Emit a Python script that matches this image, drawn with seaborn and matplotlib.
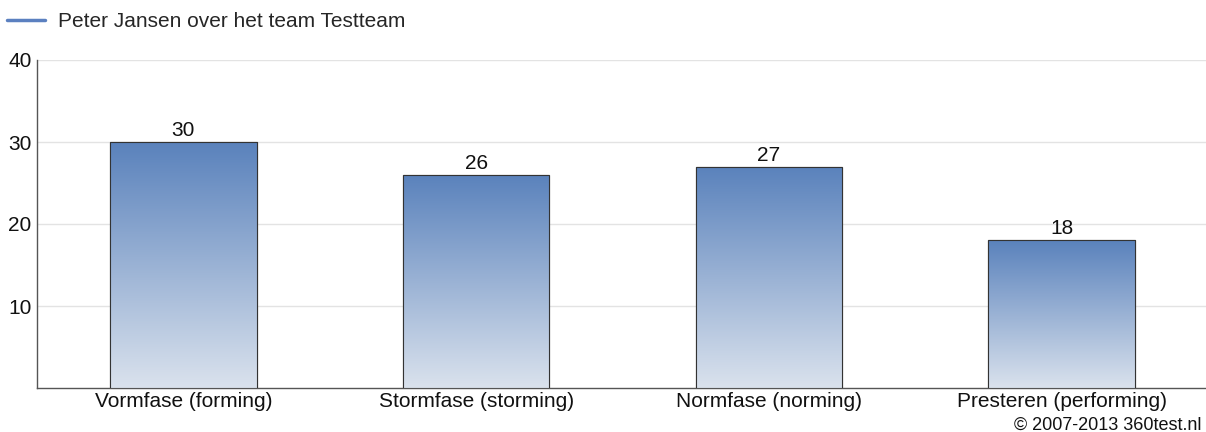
import numpy as np
import pandas as pd
import matplotlib
matplotlib.use("Agg")
import matplotlib.pyplot as plt
from matplotlib.colors import LinearSegmentedColormap
from matplotlib.lines import Line2D
import seaborn as sns

categories = ["Vormfase (forming)", "Stormfase (storming)", "Normfase (norming)", "Presteren (performing)"]
scores = [30, 26, 27, 18]
series_name = "Peter Jansen over het team Testteam"
y_ticks = [10, 20, 30, 40]

sns.set_theme(style="white")
plt.rcParams["font.family"] = ["Liberation Sans", "DejaVu Sans"]

df = pd.DataFrame({"fase": categories, "score": scores})

fig = plt.figure(figsize=(12.06, 4.32), dpi=100)
ax = fig.add_axes([37 / 1206, 1 - 388 / 432, 1171 / 1206, 328 / 432])

sns.barplot(data=df, x="fase", y="score", ax=ax, width=0.5,
            color="#ffffff", edgecolor="#333333", linewidth=0.8, zorder=3)

ax.set_ylim(0, 40)
ax.set_xlim(-0.5, len(categories) - 0.5)
ax.set_yticks(y_ticks)
ax.set_yticklabels([str(t) for t in y_ticks], fontsize=15, color="#111111")
ax.tick_params(axis="x", labelsize=15, colors="#111111", pad=3, length=0)
ax.tick_params(axis="y", pad=4, length=0)
ax.set_xlabel("")
ax.set_ylabel("")
ax.grid(axis="y", color="#e3e3e3", linewidth=1, zorder=0)
ax.set_axisbelow(True)
for side in ["top", "right"]:
    ax.spines[side].set_visible(False)
for side in ["left", "bottom"]:
    ax.spines[side].set_color("#555555")
    ax.spines[side].set_linewidth(1)

# vertical blue-to-pale gradient fill inside each bar
grad_cmap = LinearSegmentedColormap.from_list("bargrad", ["#dae2ed", "#5a82bc"])
grad = np.linspace(0, 1, 256).reshape(-1, 1)
for patch, val in zip(ax.patches, scores):
    x0 = patch.get_x()
    w = patch.get_width()
    h = patch.get_height()
    im = ax.imshow(grad, cmap=grad_cmap, origin="lower", aspect="auto",
                   extent=[x0, x0 + w, 0, h], zorder=3.5)
    im.set_clip_path(patch)
    ax.add_patch(plt.Rectangle((x0, 0), w, h, fill=False,
                               edgecolor="#333333", linewidth=0.8, zorder=4))
    ax.annotate(str(val), (x0 + w / 2, h), xytext=(0, 1.5), textcoords="offset points",
                ha="center", va="bottom", fontsize=15, color="#111111", zorder=5)
ax.set_xlim(-0.5, len(categories) - 0.5)
ax.set_ylim(0, 40)

handle = Line2D([0], [0], color="#5b80c0", linewidth=2.5)
fig.legend([handle], [series_name], loc="upper left",
           bbox_to_anchor=(0.0, 1 - 5 / 432),
           frameon=False, fontsize=15, handlelength=1.8, handletextpad=0.65,
           borderaxespad=0.0, borderpad=0.35)

fig.text(1202 / 1206, 1 - 425 / 432, "© 2007-2013 360test.nl", ha="right",
         va="center", fontsize=13, color="#111111")

fig.savefig("out.png", dpi=100)
